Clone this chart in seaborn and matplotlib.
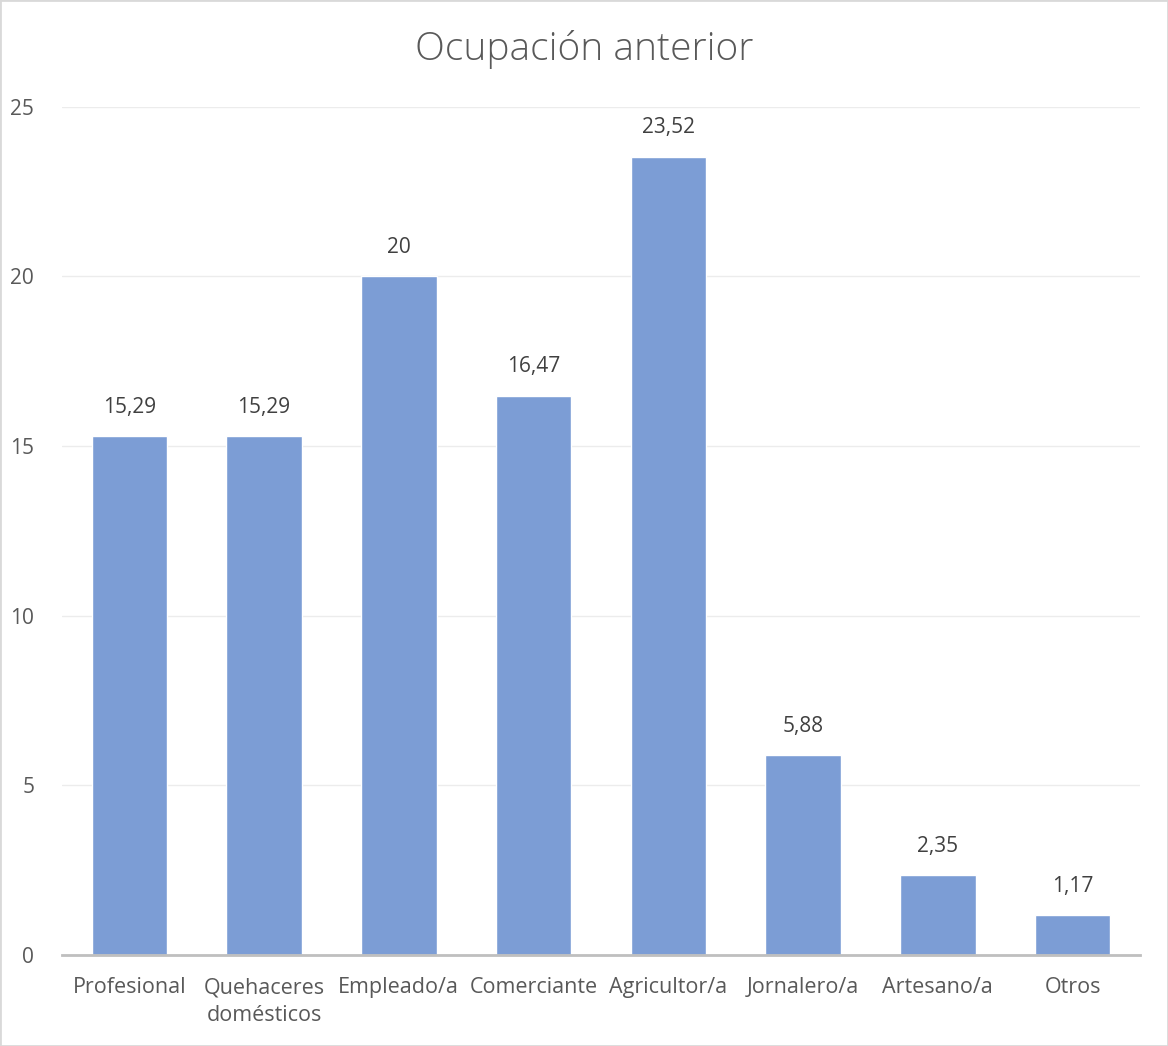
import matplotlib
matplotlib.use("Agg")
import matplotlib.pyplot as plt
import seaborn as sns
import pandas as pd

categorias = ["Profesional", "Quehaceres\ndomésticos", "Empleado/a", "Comerciante",
              "Agricultor/a", "Jornalero/a", "Artesano/a", "Otros"]
porcentajes = [15.29, 15.29, 20, 16.47, 23.52, 5.88, 2.35, 1.17]
etiquetas = ["15,29", "15,29", "20", "16,47", "23,52", "5,88", "2,35", "1,17"]
yticks = [0, 5, 10, 15, 20, 25]

df = pd.DataFrame({"categoria": categorias, "valor": porcentajes})

sns.set_style("white")
plt.rcParams["font.family"] = ["Open Sans", "DejaVu Sans"]
gris = "#595959"

fig = plt.figure(figsize=(11.68, 10.46), dpi=100)
ax = fig.add_axes([0.053, 0.087, 0.923, 0.811])

sns.barplot(data=df, x="categoria", y="valor", color="#7c9dd5", saturation=1,
            width=0.56, ax=ax)

for i, (v, t) in enumerate(zip(porcentajes, etiquetas)):
    ax.text(i, v + 0.55, t, ha="center", va="bottom", fontsize=15, color="#404040")

ax.set_ylim(0, 25)
ax.set_xlim(-0.5, len(categorias) - 0.5)
ax.set_yticks(yticks)
ax.set_yticklabels([str(t) for t in yticks], fontsize=15, color=gris)
ax.tick_params(axis="x", labelsize=15.5, colors=gris, length=0, pad=16)
ax.tick_params(axis="y", length=0, pad=20)
for lbl in ax.get_xticklabels():
    lbl.set_linespacing(1.45)
ax.yaxis.grid(True, color="#ececec", linewidth=1)
ax.set_axisbelow(True)
ax.set_xlabel("")
ax.set_ylabel("")
for s in ["top", "right", "left"]:
    ax.spines[s].set_visible(False)
ax.spines["bottom"].set_color("#bfbfbf")
ax.spines["bottom"].set_linewidth(2)

fig.text(0.5, 0.953, "Ocupación anterior", ha="center", va="center",
         fontsize=28, fontweight="light", color=gris)
fig.patches.append(plt.Rectangle((0, 0), 1, 1, transform=fig.transFigure,
                                 fill=False, edgecolor="#d9d9d9", linewidth=2))

fig.savefig("out.png", dpi=100)
